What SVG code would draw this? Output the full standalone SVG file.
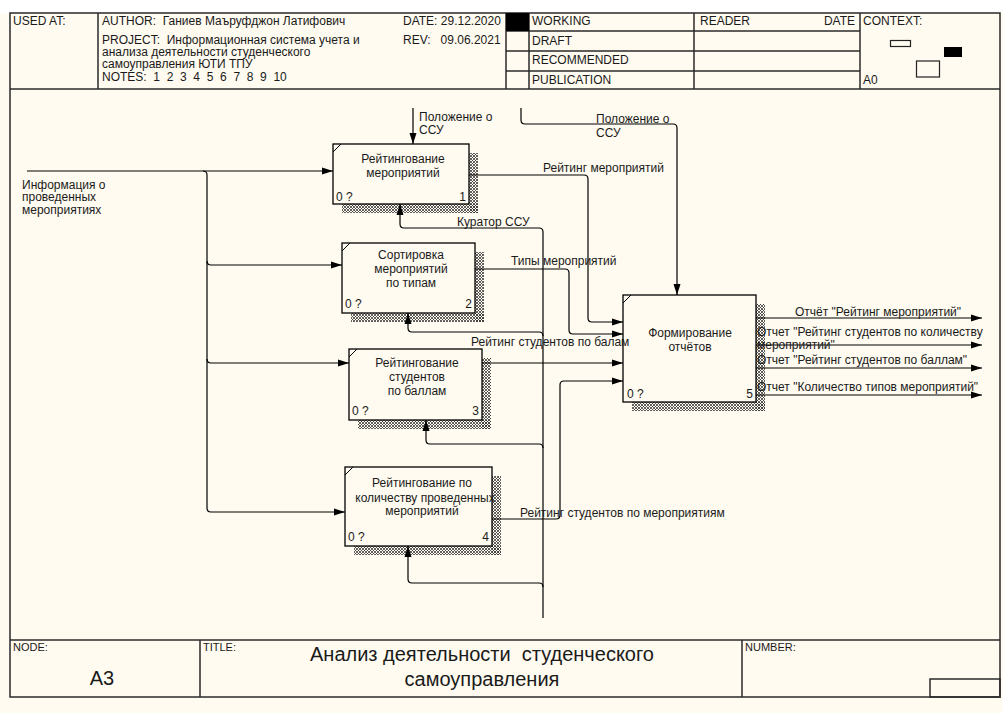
<svg xmlns="http://www.w3.org/2000/svg" width="1003" height="713" viewBox="0 0 1003 713">
  <defs>
    <marker id="arrow" markerUnits="userSpaceOnUse" markerWidth="11" markerHeight="8" refX="11" refY="4" orient="auto">
      <path d="M0,0.5 L11,4 L0,7.5 z" fill="#000"/>
    </marker>
    <pattern id="hatch" patternUnits="userSpaceOnUse" width="3" height="3">
      <path d="M0,0 L3,3 M3,0 L0,3" stroke="#3a3a3a" stroke-width="0.8"/>
    </pattern>
  </defs>
  <style>
    text { font-family: "Liberation Sans", Arial, sans-serif; font-size: 12px; fill: #1a1a1a; white-space: pre; }
    .frame { fill: none; stroke: #2a2a2a; stroke-width: 1.5; }
    .box { fill: #fffbf0; stroke: #000; stroke-width: 1.3; }
    .shadow { fill: url(#hatch); }
    .corner { stroke: #000; stroke-width: 1; }
    .c { text-anchor: middle; }
    .r { text-anchor: end; }
    .small { font-size: 11px; }
    .big { font-size: 20px; }
    #connectors path { fill: none; stroke: #000; stroke-width: 1.2; }
    #connectors path.arr { marker-end: url(#arrow); }
  </style>

  <!-- page -->
  <rect x="0" y="0" width="1003" height="713" fill="#ffffff"/>
  <rect x="0" y="13" width="1003" height="700" fill="#fffbf0"/>

  <!-- header block -->
  <g id="header">
    <rect class="frame" x="10" y="13" width="990" height="684"/>
    <line class="frame" x1="10" y1="89" x2="1000" y2="89"/>
    <line class="frame" x1="98" y1="13" x2="98" y2="89"/>
    <line class="frame" x1="506" y1="13" x2="506" y2="89"/>
    <line class="frame" x1="529" y1="13" x2="529" y2="89"/>
    <line class="frame" x1="694" y1="13" x2="694" y2="89"/>
    <line class="frame" x1="860" y1="13" x2="860" y2="89"/>
    <line class="frame" x1="506" y1="31" x2="860" y2="31"/>
    <line class="frame" x1="506" y1="51" x2="860" y2="51"/>
    <line class="frame" x1="506" y1="71" x2="860" y2="71"/>
    <rect x="506" y="13" width="23" height="18" fill="#000"/>

    <text x="13" y="25">USED AT:</text>
    <text x="102" y="25">AUTHOR:  Ганиев Маъруфджон Латифович</text>
    <text x="102" y="44">PROJECT:  Информационная система учета и</text>
    <text x="102" y="56">анализа деятельности студенческого</text>
    <text x="102" y="68">самоуправления ЮТИ ТПУ</text>
    <text x="102" y="81">NOTES:  1  2  3  4  5  6  7  8  9  10</text>
    <text x="403" y="25">DATE: 29.12.2020</text>
    <text x="403" y="44">REV:   09.06.2021</text>
    <text x="532" y="25">WORKING</text>
    <text x="532" y="45">DRAFT</text>
    <text x="532" y="64">RECOMMENDED</text>
    <text x="532" y="84">PUBLICATION</text>
    <text x="700" y="25">READER</text>
    <text class="r" x="855" y="25">DATE</text>
    <text x="863" y="25">CONTEXT:</text>
    <text x="863" y="84">A0</text>
    <rect x="890.5" y="40.5" width="20" height="6" fill="none" stroke="#222" stroke-width="1.2"/>
    <rect x="944" y="47" width="18" height="10" fill="#000"/>
    <rect x="916.5" y="61" width="23" height="16" fill="none" stroke="#222" stroke-width="1.2"/>
  </g>

  <!-- footer block -->
  <g id="footer">
    <line class="frame" x1="10" y1="640" x2="1000" y2="640"/>
    <line class="frame" x1="200" y1="640" x2="200" y2="697"/>
    <line class="frame" x1="742" y1="640" x2="742" y2="697"/>
    <rect class="frame" x="930" y="679" width="70" height="18"/>
    <text class="small" x="13" y="651">NODE:</text>
    <text class="small" x="203" y="651">TITLE:</text>
    <text class="small" x="745" y="651">NUMBER:</text>
    <text class="big c" x="102" y="685">A3</text>
    <text class="big c" x="482" y="661">Анализ деятельности  студенческого</text>
    <text class="big c" x="482" y="686">самоуправления</text>
  </g>

  <!-- activity 1 -->
  <g id="node1">
    <rect class="shadow" x="469" y="153" width="9" height="60"/>
    <rect class="shadow" x="342" y="204" width="136" height="9"/>
    <rect class="box" x="333" y="144" width="136" height="60"/>
    <line class="corner" x1="333" y1="152" x2="341" y2="144"/>
    <text class="c" x="403" y="163">Рейтингование</text>
    <text class="c" x="403" y="177">мероприятий</text>
    <text x="336" y="200.5">0 ?</text>
    <text class="r" x="466" y="200.5">1</text>
  </g>

  <!-- activity 2 -->
  <g id="node2">
    <rect class="shadow" x="475" y="252" width="9" height="70"/>
    <rect class="shadow" x="351" y="313" width="133" height="9"/>
    <rect class="box" x="342" y="243" width="133" height="70"/>
    <line class="corner" x1="342" y1="251" x2="350" y2="243"/>
    <text class="c" x="411" y="259">Сортировка</text>
    <text class="c" x="411" y="273">мероприятий</text>
    <text class="c" x="411" y="287">по типам</text>
    <text x="345" y="308">0 ?</text>
    <text class="r" x="472" y="308">2</text>
  </g>

  <!-- activity 3 -->
  <g id="node3">
    <rect class="shadow" x="482" y="358" width="9" height="71"/>
    <rect class="shadow" x="358" y="420" width="133" height="9"/>
    <rect class="box" x="349" y="349" width="133" height="71"/>
    <line class="corner" x1="349" y1="357" x2="357" y2="349"/>
    <text class="c" x="417" y="367">Рейтингование</text>
    <text class="c" x="417" y="381">студентов</text>
    <text class="c" x="417" y="394.5">по баллам</text>
    <text x="352" y="415">0 ?</text>
    <text class="r" x="479" y="415">3</text>
  </g>

  <!-- activity 4 -->
  <g id="node4">
    <rect class="shadow" x="492" y="476" width="9" height="79"/>
    <rect class="shadow" x="354" y="546" width="147" height="9"/>
    <rect class="box" x="345" y="467" width="147" height="79"/>
    <line class="corner" x1="345" y1="475" x2="353" y2="467"/>
    <text class="c" x="422" y="487">Рейтингование по</text>
    <text class="c" x="425" y="502">количеству проведенных</text>
    <text class="c" x="422" y="515">мероприятий</text>
    <text x="348" y="541">0 ?</text>
    <text class="r" x="489" y="541">4</text>
  </g>

  <!-- activity 5 -->
  <g id="node5">
    <rect class="shadow" x="756" y="304" width="9" height="107"/>
    <rect class="shadow" x="632" y="402" width="133" height="9"/>
    <rect class="box" x="623" y="295" width="133" height="107"/>
    <line class="corner" x1="623" y1="303" x2="631" y2="295"/>
    <text class="c" x="690" y="337">Формирование</text>
    <text class="c" x="690" y="351">отчётов</text>
    <text x="627" y="397.5">0 ?</text>
    <text class="r" x="753" y="397.5">5</text>
  </g>

  <!-- arrows -->
  <g id="connectors">
    <!-- input: information about events, split to activities 1-4 -->
    <path class="arr" d="M27,171 H333"/>
    <path class="arr" d="M203,171 Q207,171 207,175 V508 Q207,512 211,512 H345"/>
    <path class="arr" d="M207,261 Q207,265 211,265 H342"/>
    <path class="arr" d="M207,359 Q207,363 211,363 H349"/>

    <!-- controls -->
    <path class="arr" d="M413,108 V144"/>
    <path class="arr" d="M521,108 V120 Q521,124 525,124 H673 Q677,124 677,128 V295"/>

    <!-- mechanism: curator, split to activities 1-4 -->
    <path class="arr" d="M543,618 V232 Q543,228 539,228 H404 Q400,228 400,224 V204"/>
    <path class="arr" d="M543,336 Q543,332 539,332 H412 Q408,332 408,328 V313"/>
    <path class="arr" d="M543,448 Q543,444 539,444 H430 Q426,444 426,440 V420"/>
    <path class="arr" d="M543,587 Q543,583 539,583 H412 Q408,583 408,579 V546"/>

    <!-- flows into activity 5 -->
    <path class="arr" d="M469,175 H584 Q588,175 588,179 V318 Q588,322 592,322 H623"/>
    <path class="arr" d="M475,269 H565 Q569,269 569,273 V330 Q569,334 573,334 H623"/>
    <path class="arr" d="M482,363 H623"/>
    <path class="arr" d="M492,519 H556 Q560,519 560,515 V385 Q560,381 564,381 H623"/>

    <!-- reports -->
    <path class="arr" d="M756,318 H982"/>
    <path class="arr" d="M756,345 H982"/>
    <path class="arr" d="M756,368 H982"/>
    <path class="arr" d="M756,395 H982"/>
  </g>

  <!-- arrow labels -->
  <g id="labels">
    <text x="22" y="189">Информация о</text>
    <text x="22" y="201">проведенных</text>
    <text x="22" y="214">мероприятиях</text>
    <text x="419" y="121">Положение о</text>
    <text x="419" y="134">ССУ</text>
    <text x="596" y="123">Положение о</text>
    <text x="596" y="136.5">ССУ</text>
    <text x="543" y="172">Рейтинг мероприятий</text>
    <text x="457" y="225.5">Куратор ССУ</text>
    <text x="511" y="264.5">Типы мероприятий</text>
    <text x="471" y="346">Рейтинг студентов по балам</text>
    <text x="520" y="516.5">Рейтинг студентов по мероприятиям</text>
    <text x="795" y="316">Отчёт "Рейтинг мероприятий"</text>
    <text x="757" y="336">Отчет "Рейтинг студентов по количеству</text>
    <text x="757" y="348.5">мероприятий"</text>
    <text x="757" y="364">Отчет "Рейтинг студентов по баллам"</text>
    <text x="757" y="391">Отчет "Количество типов мероприятий"</text>
  </g>
</svg>
